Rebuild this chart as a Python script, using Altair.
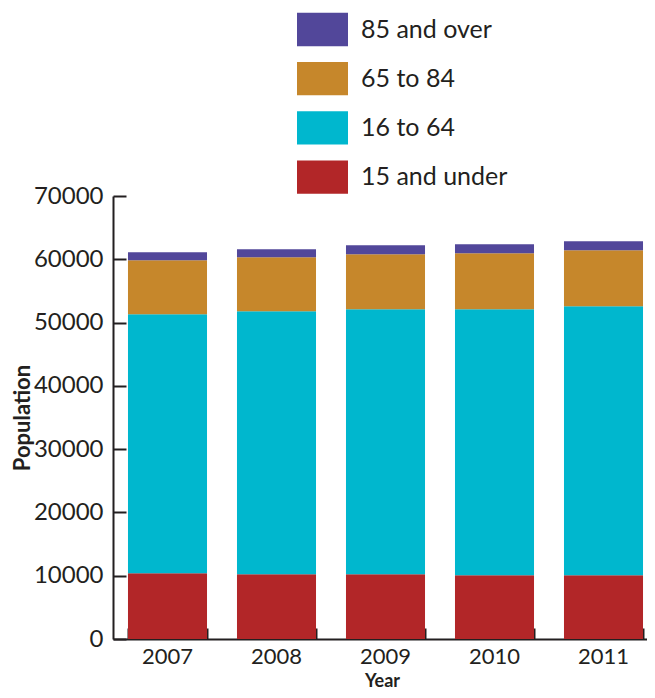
import altair as alt
import pandas as pd

years = ["2007", "2008", "2009", "2010", "2011"]
groups = ["15 and under", "16 to 64", "65 to 84", "85 and over"]
under15 = [10380, 10220, 10220, 10060, 10060]
age16_64 = [40920, 41560, 41870, 42030, 42510]
age65_84 = [8530, 8530, 8690, 8850, 8850]
over85 = [1270, 1260, 1420, 1420, 1420]
colors = ["#b22628", "#00b7ce", "#c6872b", "#52479a"]
y_ticks = [0, 10000, 20000, 30000, 40000, 50000, 60000, 70000]

series = [under15, age16_64, age65_84, over85]
rows = []
for gi, (g, vals) in enumerate(zip(groups, series)):
    for yr, v in zip(years, vals):
        rows.append({"Year": yr, "Group": g, "Population": v, "idx": gi})
df = pd.DataFrame(rows)

FONT = "Lato"
INK = "#231f20"

xscale = alt.Scale(paddingInner=0.275, paddingOuter=0.1375, range=[0, 545])
yscale = alt.Scale(domain=[0, 70000], nice=False)

legend_order = list(reversed(groups))
legend_colors = list(reversed(colors))

bars = alt.Chart(df).mark_bar().encode(
    x=alt.X("Year:N", scale=xscale, sort=years,
            axis=alt.Axis(orient="bottom", ticks=False, labelAngle=0, labelFont=FONT,
                          labelFontSize=22, labelColor=INK, labelPadding=7,
                          domainColor=INK, domainWidth=2, title="Year",
                          titleFont=FONT, titleFontSize=18, titleFontWeight="bold",
                          titleColor=INK, titleX=269, titleY=51,
                          titleBaseline="bottom", grid=False)),
    y=alt.Y("Population:Q", stack="zero", scale=yscale,
            axis=alt.Axis(orient="left", values=y_ticks, ticks=False, labelFont=FONT,
                          labelFontSize=24, labelColor=INK, labelPadding=10,
                          domainColor=INK, domainWidth=2, title="Population",
                          titleFont=FONT, titleFontSize=22, titleFontWeight="bold",
                          titleColor=INK, titleX=-91, titleBaseline="middle",
                          grid=False, format="d")),
    color=alt.Color("Group:N",
                    scale=alt.Scale(domain=legend_order, range=legend_colors),
                    legend=alt.Legend(orient="none", legendX=184, legendY=-192,
                                      title=None, symbolType="M-1,-0.653L1,-0.653L1,0.653L-1,0.653Z",
                                      symbolSize=2601, symbolStrokeWidth=0, symbolOpacity=1,
                                      labelFont=FONT, labelFontSize=25, labelColor=INK,
                                      labelOffset=13, rowPadding=6.2, padding=0)),
    order=alt.Order("idx:Q", sort="ascending"),
)

tick_layer = alt.Chart(df).mark_bar(opacity=0).encode(
    x=alt.X("Year:N", scale=xscale, sort=years,
            axis=alt.Axis(orient="bottom", labels=False, domain=False, title=None,
                          tickBand="extent", tickSize=11, tickWidth=2, tickColor=INK,
                          offset=-11, grid=False)),
    y=alt.Y("Population:Q", stack="zero", scale=yscale,
            axis=alt.Axis(orient="left", values=y_ticks, labels=False, domain=False,
                          title=None, tickSize=13, tickWidth=2, tickColor=INK,
                          offset=-13, grid=False)),
)

chart = alt.layer(bars, tick_layer).resolve_axis(
    x="independent", y="independent"
).properties(
    width=534, height=443,
    autosize="none",
    padding={"left": 105, "top": 188, "right": 0, "bottom": 51},
).configure_view(stroke=None)

chart.save("out.html", embed_options={"renderer": "svg", "actions": False})
